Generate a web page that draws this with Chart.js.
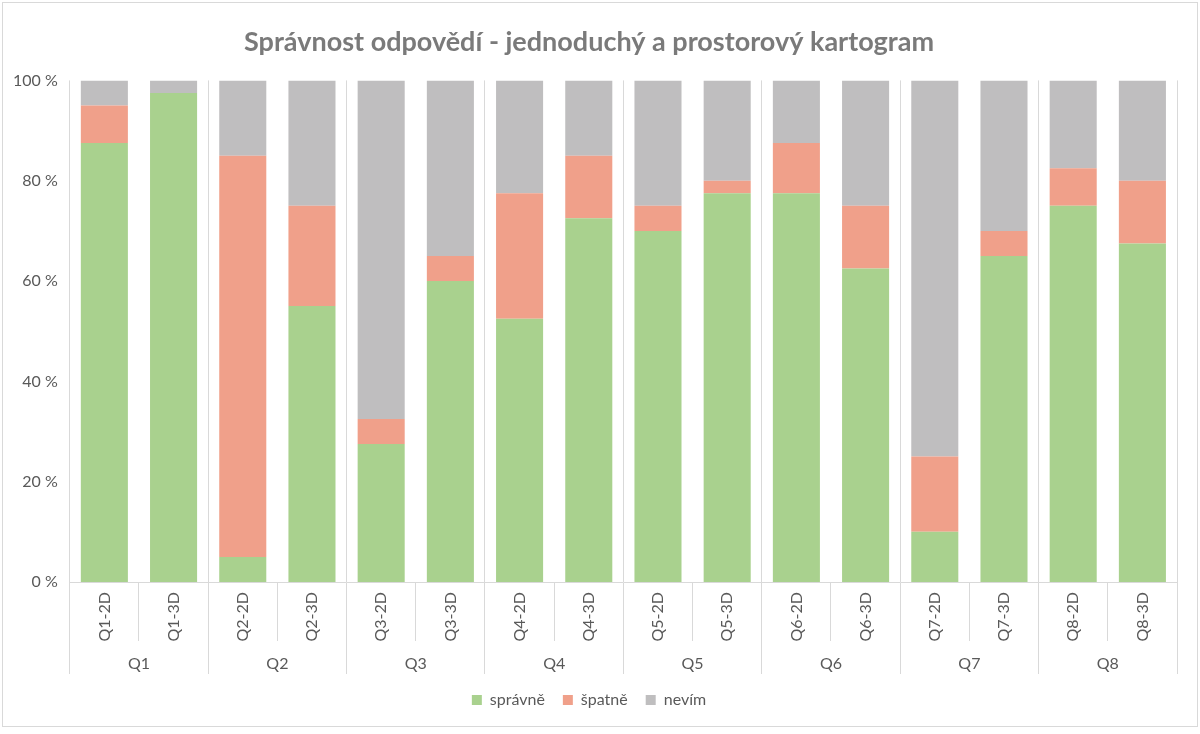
<!DOCTYPE html>
<html>
<head>
<meta charset="utf-8">
<script src="https://cdn.jsdelivr.net/npm/chart.js@4"></script>
<style>
  body { margin: 0; background: #fff; }
  #wrap { position: relative; width: 1200px; height: 734px; }
  #frame { position: absolute; left: 2px; top: 2px; width: 1194px; height: 723px; border: 1px solid #d9d9d9; pointer-events: none; }
</style>
</head>
<body>
<div id="wrap">
  <canvas id="myChart" width="1200" height="734"></canvas>
  <div id="frame"></div>
</div>
<script>
// categories (two rows of the x axis)
const labels = [
  "Q1-2D", "Q1-3D", "Q2-2D", "Q2-3D", "Q3-2D", "Q3-3D", "Q4-2D", "Q4-3D",
  "Q5-2D", "Q5-3D", "Q6-2D", "Q6-3D", "Q7-2D", "Q7-3D", "Q8-2D", "Q8-3D",
];
const groups = ["Q1", "Q2", "Q3", "Q4", "Q5", "Q6", "Q7", "Q8"];

// series values (percent)
const spravne = [87.5, 97.5, 5, 55, 27.5, 60, 52.5, 72.5, 70, 77.5, 77.5, 62.5, 10, 65, 75, 67.5];
const spatne = [7.5, 0, 80, 20, 5, 5, 25, 12.5, 5, 2.5, 10, 12.5, 15, 5, 7.5, 12.5];
const nevim = [5, 2.5, 15, 25, 67.5, 35, 22.5, 15, 25, 20, 12.5, 25, 75, 30, 17.5, 20];

const yTicks = [0, 20, 40, 60, 80, 100];

const textColor = "#595959";
const lineColor = "#d9d9d9";
const font = "Lato";

const data = {
  labels: labels,
  datasets: [
    { label: "správně", data: spravne, backgroundColor: "#a9d18e" },
    { label: "špatně", data: spatne, backgroundColor: "#f0a08a" },
    { label: "nevím", data: nevim, backgroundColor: "#bfbebf" },
  ],
};

const config = {
  type: "bar",
  data: data,
  options: {
    responsive: false,
    animation: false,
    barPercentage: 0.68,
    categoryPercentage: 1,
    layout: { padding: { left: 1, right: 23, top: 20, bottom: 16 } },
    plugins: {
      title: {
        display: true,
        text: "Správnost odpovědí - jednoduchý a prostorový kartogram",
        color: "#7a7a7a",
        font: { family: font, size: 27, weight: "bold" },
        padding: { top: 6, bottom: 22 },
      },
      legend: {
        position: "bottom",
        labels: {
          color: textColor,
          font: { family: font, size: 16 },
          boxWidth: 10,
          boxHeight: 10,
          padding: 18,
        },
      },
      tooltip: { enabled: false },
    },
    scales: {
      x: {
        stacked: true,
        weight: 0,
        afterFit: (scale) => {
          scale.height = 59;
        },
        grid: {
          offset: true,
          drawOnChartArea: false,
          color: lineColor,
          tickLength: 59,
        },
        border: { display: true, color: lineColor },
        ticks: {
          color: textColor,
          font: { family: font, size: 16 },
          minRotation: 90,
          maxRotation: 90,
          autoSkip: false,
          padding: -49,
        },
      },
      x2: {
        type: "category",
        labels: groups,
        position: "bottom",
        weight: 1,
        offset: true,
        afterFit: (scale) => {
          scale.height = 33;
        },
        grid: {
          offset: true,
          drawOnChartArea: true,
          color: lineColor,
          tickLength: 33,
        },
        border: { display: false },
        ticks: {
          color: textColor,
          font: { family: font, size: 16 },
          autoSkip: false,
          padding: -20,
        },
      },
      y: {
        stacked: true,
        min: 0,
        max: 100,
        afterBuildTicks: (axis) => {
          axis.ticks = yTicks.map((v) => ({ value: v }));
        },
        grid: { display: false, drawTicks: false },
        border: { display: false },
        ticks: {
          color: textColor,
          font: { family: font, size: 16 },
          padding: 12,
          callback: (v) => v + " %",
        },
      },
    },
  },
};

const myChart = new Chart(document.getElementById("myChart"), config);
</script>
</body>
</html>
